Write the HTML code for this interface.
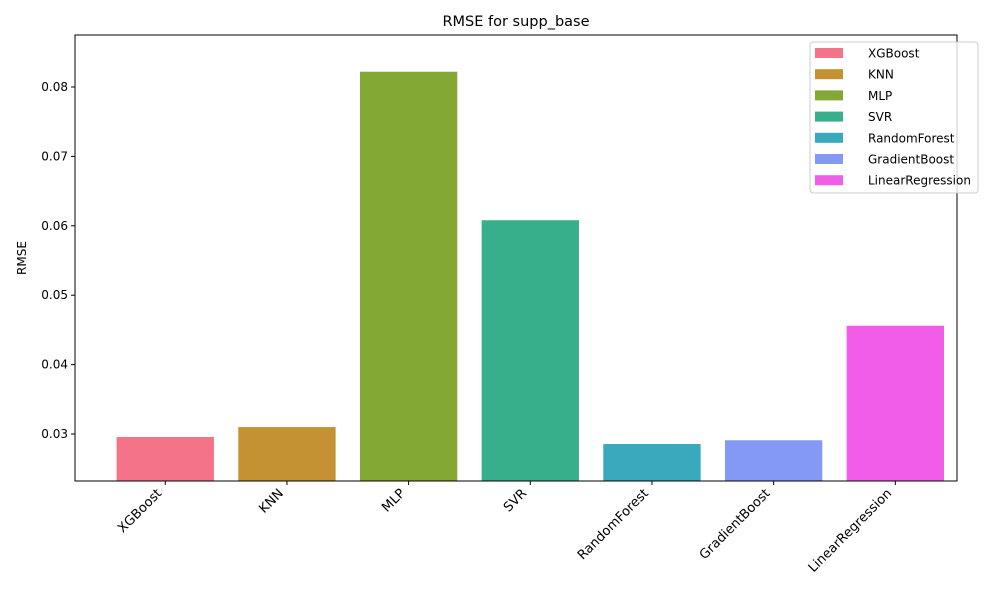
<!DOCTYPE html>
<html><head><meta charset="utf-8"><style>
body{margin:0;background:#fff;font-family:"Liberation Sans",sans-serif;}
svg text{font-family:"DejaVu Sans","Liberation Sans",sans-serif;}
</style></head><body>
<svg id="chart" width="1000" height="600" xmlns="http://www.w3.org/2000/svg">
<rect width="1000" height="600" fill="#fff"/>
<text x="516" y="26" font-size="14.5" text-anchor="middle">RMSE for supp_base</text>
<text transform="translate(26,258) rotate(-90)" font-size="12" text-anchor="middle">RMSE</text>
<g id="bars"></g><g id="yticks"></g><g id="xticks"></g>
<rect x="75" y="35" width="882" height="446" fill="none" stroke="#000" stroke-width="1"/>
<g id="legend"></g>
</svg>
<script>
const categories=["XGBoost","KNN","MLP","SVR","RandomForest","GradientBoost","LinearRegression"];
const values=[0.02957,0.0310,0.0822,0.0608,0.02856,0.0291,0.0456];
const colors=["#f47389","#c49232","#83a834","#36af8a","#3aa9bd","#8399f3","#f15ce8"];
const yTicks=[0.03,0.04,0.05,0.06,0.07,0.08];
const NS="http://www.w3.org/2000/svg";
const L=75,R=957,T=35,B=481;
const yMin=0.02323,yMax=0.08749,xMin=-0.742,xMax=6.507;
const y=v=>B-(v-yMin)/(yMax-yMin)*(B-T);
const x=i=>L+(i-xMin)/(xMax-xMin)*(R-L);
const bw=0.8*(R-L)/(xMax-xMin);
function mk(t,a,p){const e=document.createElementNS(NS,t);for(const k in a)e.setAttribute(k,a[k]);p.appendChild(e);return e;}
const bars=document.getElementById('bars'),yt=document.getElementById('yticks'),xt=document.getElementById('xticks'),lg=document.getElementById('legend');
categories.forEach((c,i)=>{
 const r=mk('rect',{x:x(i)-bw/2,y:y(values[i]),width:bw,height:B-y(values[i]),fill:colors[i]},bars);
 
 
 const tk=mk('line',{x1:x(i),x2:x(i),y1:B,y2:B+4,stroke:'#000'},xt);
 
 
 const tx=mk('text',{transform:`translate(${x(i)-3},${B+13}) rotate(-45)`,'font-size':13,'text-anchor':'end'},xt);
 tx.textContent=c;
 
 
});
yTicks.forEach(v=>{
 const tk=mk('line',{x1:L-4,x2:L,y1:y(v),y2:y(v),stroke:'#000'},yt);
 
 
 const tx=mk('text',{x:L-7,y:y(v)+4,'font-size':12,'text-anchor':'end'},yt);
 tx.textContent=v.toFixed(2);
 
 
});
const box=mk('rect',{x:810,y:42,width:168,height:151,rx:3,fill:'#fff','fill-opacity':0.8,stroke:'#ccc'},lg);


categories.forEach((c,i)=>{
 const yy=53+i*21.2;
 const g=mk('g',{},lg);
 
 
 mk('rect',{x:815,y:yy-5,width:28,height:10,fill:colors[i]},g);
 const t=mk('text',{x:868,y:yy+4.5,'font-size':12},g);
 t.textContent=c;
});
</script>
</body></html>
